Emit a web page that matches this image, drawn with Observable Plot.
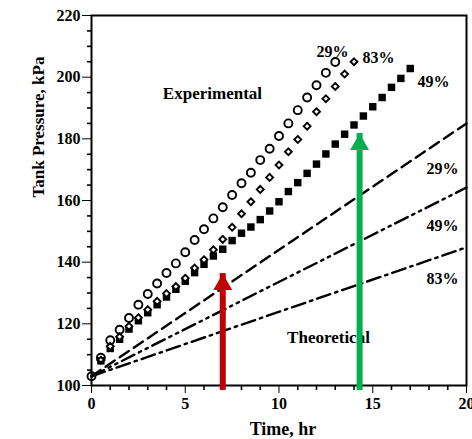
<!DOCTYPE html>
<html><head><meta charset="utf-8">
<script src="https://cdn.jsdelivr.net/npm/d3@7"></script>
<script src="https://cdn.jsdelivr.net/npm/@observablehq/plot@0.6"></script>
<style>
body{margin:0;background:#fff}
#chart svg{display:block;overflow:visible}
#chart svg g[aria-label="x-axis"] line,#chart svg g[aria-label="y-axis"] line{stroke-width:1.6}
</style>
</head><body><div id="chart"></div>
<script>
// Experimental, 29% (open circles)
const exp29Time = [0,0.5,1,1.5,2,2.5,3,3.5,4,4.5,5,5.5,6,6.5,7,7.5,8,8.5,9,9.5,10,10.5,11,11.5,12,12.5,13];
const exp29Pressure = [103,109,114.7,118.1,121.9,126.2,129.7,133.1,136.5,139.6,143.2,147.2,150.7,154.2,157.8,161.8,165.6,169.0,173.1,176.8,180.9,185.0,189.3,193.4,197.4,201.4,204.9];
// Experimental, 83% (open diamonds)
const exp83Time = [0.5,1,1.5,2,2.5,3,3.5,4,4.5,5,5.5,6,6.5,7,7.5,8,8.5,9,9.5,10,10.5,11,11.5,12,12.5,13,13.5,14];
const exp83Pressure = [108.2,112.7,115.8,119.2,122.0,124.6,127.3,129.8,132.1,134.8,138.1,140.8,144.0,147.4,151.3,155.7,159.6,163.6,167.5,171.5,175.8,179.8,184.1,188.8,193.0,197.0,201.0,205.0];
// Experimental, 49% (filled squares)
const exp49Time = [0.5,1,1.5,2,2.5,3,3.5,4,4.5,5,5.5,6,6.5,7,7.5,8,8.5,9,9.5,10,10.5,11,11.5,12,12.5,13,13.5,14,14.5,15,15.5,16,16.5,17];
const exp49Pressure = [108,112,115,118.3,121,123.6,126.2,128.7,131.2,133.8,136.6,139.3,142,144.2,147,149.4,151.4,153.8,156.6,159.6,162.9,165.8,168.8,171.8,175.1,178.3,181.5,184.5,187.4,190.4,193.4,196.7,199.6,202.8];
// Theoretical lines
const theoTime = [0, 20];
const theo29 = [103, 185.0];
const theo49 = [103, 164.2];
const theo83 = [103, 144.8];
// Arrows
const arrowTime = [7, 14.3];
const arrowTip = [136.3, 181.7];
const arrowBase = 98.4;
const arrowColors = ["#c00000", "#00b050"];
// Ticks
const xTicks = [0,5,10,15,20];
const xMinorTicks = [1,2,3,4,6,7,8,9,11,12,13,14,16,17,18,19];
const yTicks = [100,120,140,160,180,200,220];
const yMinorTicks = [105,110,115,125,130,135,145,150,155,165,170,175,185,190,195,205,210,215];
// Texts
const xTitle = "Time, hr";
const yTitle = "Tank Pressure, kPa";
const groupLabels = ["Experimental", "Theoretical"];
const expLabels = ["29%", "83%", "49%"];
const theoLabels = ["29%", "49%", "83%"];

const pts = (t, p) => t.map((x, i) => ({t: x, p: p[i]}));
const font = "Liberation Serif, Times New Roman, serif";

const marks = [
  Plot.ruleX(xMinorTicks, {x: d => d, y1: 100, y2: 100, insetBottom: -5, strokeWidth: 1.6}),
  Plot.ruleY(yMinorTicks, {y: d => d, x1: 0, x2: 0, insetLeft: -4, strokeWidth: 1.6}),
  Plot.line(pts(theoTime, theo29), {x: "t", y: "p", strokeWidth: 2.4, strokeDasharray: "11,6"}),
  Plot.line(pts(theoTime, theo49), {x: "t", y: "p", strokeWidth: 2.4, strokeDasharray: "14,5,2.5,5,2.5,5"}),
  Plot.line(pts(theoTime, theo83), {x: "t", y: "p", strokeWidth: 2.4, strokeDasharray: "14,5,2.5,5"}),
  Plot.dot(pts(exp49Time, exp49Pressure), {x: "t", y: "p", symbol: "square", r: 4.2, fill: "black", stroke: "none"}),
  Plot.dot(pts(exp83Time, exp83Pressure), {x: "t", y: "p", symbol: "diamond2", r: 3.1, fill: "white", stroke: "black", strokeWidth: 1.9}),
  Plot.dot(pts(exp29Time, exp29Pressure), {x: "t", y: "p", symbol: "circle", r: 4.0, fill: "none", stroke: "black", strokeWidth: 1.9}),
  Plot.text([groupLabels[0]], {x: 6.45, y: 194.8, text: d => d, fontSize: 17}),
  Plot.text([groupLabels[1]], {x: 12.64, y: 115.6, text: d => d, fontSize: 17}),
  Plot.text([expLabels[0]], {x: 12.85, y: 208.1, text: d => d, fontSize: 16}),
  Plot.text([expLabels[1]], {x: 15.31, y: 206.4, text: d => d, fontSize: 16}),
  Plot.text([expLabels[2]], {x: 18.24, y: 198.6, text: d => d, fontSize: 16}),
  Plot.text([theoLabels[0]], {x: 18.72, y: 170.4, text: d => d, fontSize: 16}),
  Plot.text([theoLabels[1]], {x: 18.72, y: 151.9, text: d => d, fontSize: 16}),
  Plot.text([theoLabels[2]], {x: 18.72, y: 134.7, text: d => d, fontSize: 16}),
  Plot.text([xTitle], {frameAnchor: "bottom", lineAnchor: "middle", dy: 44, dx: 4, text: d => d, fontSize: 18}),
  Plot.text([yTitle], {frameAnchor: "left", lineAnchor: "middle", rotate: -90, dx: -53, dy: -3, text: d => d, fontSize: 17}),
  Plot.frame({stroke: "black", strokeWidth: 2})
];
arrowTime.forEach((t, i) => {
  marks.push(Plot.ruleX([t], {x: d => d, y1: arrowBase, y2: arrowTip[i], stroke: arrowColors[i], strokeWidth: 6}));
  marks.push(Plot.dot([t], {x: d => d, y: arrowTip[i], symbol: "triangle", r: 7, dy: 10.9, fill: arrowColors[i], stroke: "none"}));
});

const chart = Plot.plot({
  width: 472,
  height: 439,
  marginLeft: 91,
  marginRight: 6,
  marginTop: 15,
  marginBottom: 54,
  style: {fontFamily: font, fontSize: "16px", fontWeight: "bold", color: "black", background: "white"},
  x: {domain: [0, 20], ticks: xTicks, tickSize: 8, tickPadding: 4, tickFormat: d => d, label: null},
  y: {domain: [100, 220], ticks: yTicks, tickSize: 9, tickPadding: 2, tickFormat: d => d, label: null},
  marks
});
document.getElementById("chart").appendChild(chart);
</script>
</body></html>
